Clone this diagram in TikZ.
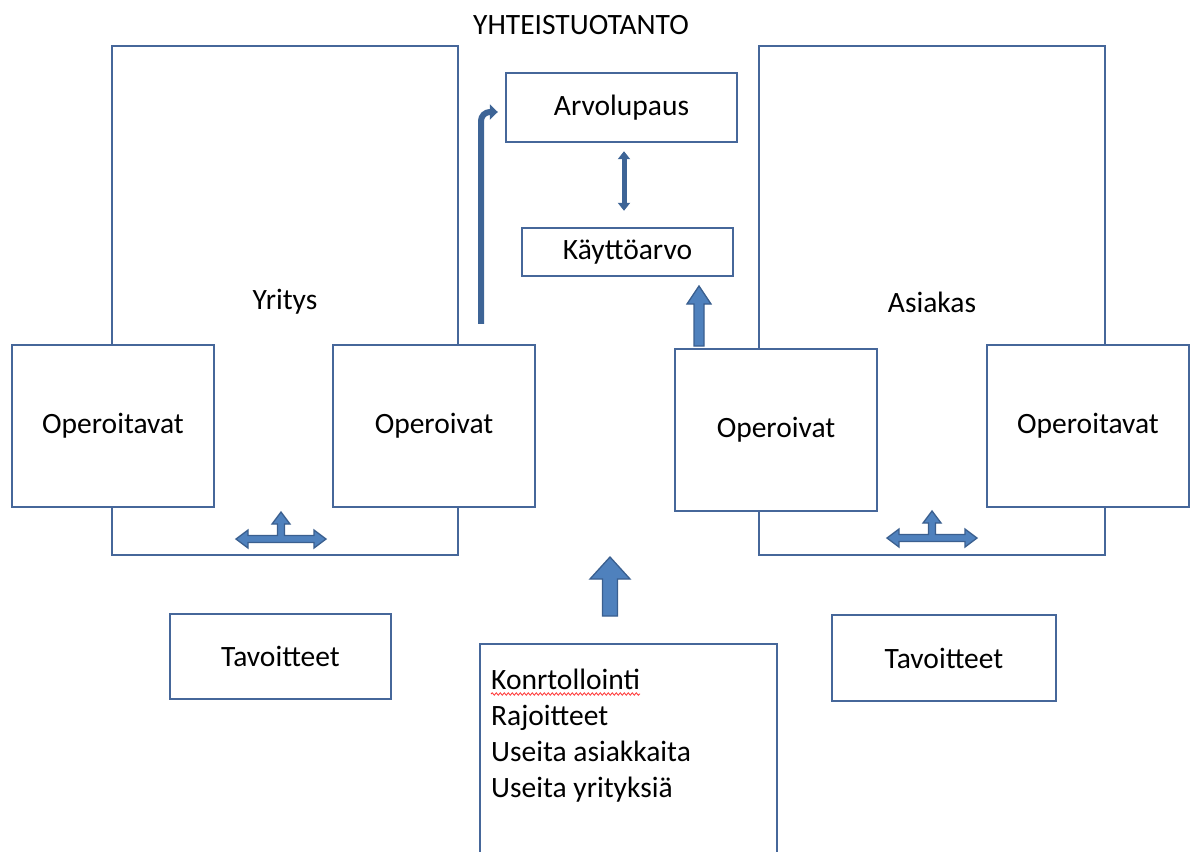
\documentclass[tikz,border=0pt]{standalone}
\usepackage{fontspec}
\setmainfont{Carlito}
\usetikzlibrary{arrows.meta, decorations.pathmorphing}

\definecolor{boxline}{HTML}{46679A}
\definecolor{arrowfill}{HTML}{4F81BD}
\definecolor{arrowline}{HTML}{3A5F8F}

% block arrow pointing up: x, y base, y tip, half shaft, half head, head length
\newcommand{\blockup}[6]{%
  \draw[blockarrow] (#1-#4,#2) -- (#1-#4,#3+#6) -- (#1-#5,#3+#6) -- (#1,#3)
    -- (#1+#5,#3+#6) -- (#1+#4,#3+#6) -- (#1+#4,#2) -- cycle;}
% horizontal two-way arrow with a branch up: x centre, y
\newcommand{\blockT}[2]{%
  \draw[blockarrow] (#1-45,#2) -- (#1-33,#2-9) -- (#1-33,#2-3.5) -- (#1-3.5,#2-3.5)
    -- (#1-3.5,#2-15) -- (#1-9,#2-15) -- (#1,#2-27) -- (#1+9,#2-15) -- (#1+3.5,#2-15)
    -- (#1+3.5,#2-3.5) -- (#1+33,#2-3.5) -- (#1+33,#2-9) -- (#1+45,#2)
    -- (#1+33,#2+9) -- (#1+33,#2+3.5) -- (#1-33,#2+3.5) -- (#1-33,#2+9) -- cycle;}

\begin{document}
\begin{tikzpicture}[x=1pt,y=-1pt,font=\fontsize{29.5}{36}\selectfont]
	\tikzset{
		box/.style={draw=boxline,line width=2.4pt,fill=white,inner sep=0pt},
		blockarrow/.style={fill=arrowfill,draw=arrowline,line width=1.3pt,line join=miter},
		thinarrow/.style={draw=arrowline!85!arrowfill,line width=5pt}
	}
	\useasboundingbox (0,0) rectangle (1195,852);

	% title
	\node (title) at (581,25) {YHTEISTUOTANTO};

	% company and customer
	\node[box,minimum width=346,minimum height=509] (yritys) at (285,300.5) {};
	\node[box,minimum width=346,minimum height=509] (asiakas) at (932,300.5) {};
	\node (yrityslbl) at (285,302) {Yritys};
	\node (asiakaslbl) at (932,302) {Asiakas};

	\node[box,minimum width=202,minimum height=162] (oitL) at (113,426) {Operoitavat};
	\node[box,minimum width=202,minimum height=162] (oivL) at (434,426) {Operoivat};
	\node[box,minimum width=202,minimum height=162] (oivR) at (776,430) {Operoivat};
	\node[box,minimum width=202,minimum height=162] (oitR) at (1088,426) {Operoitavat};

	% value
	\node[box,minimum width=231,minimum height=69] (arvo) at (621.5,107.5) {Arvolupaus};
	\node[box,minimum width=211,minimum height=48] (kaytto) at (627.5,252) {Käyttöarvo};

	% goals
	\node[box,minimum width=221,minimum height=85] (tavL) at (280.5,656.5) {Tavoitteet};
	\node[box,minimum width=224,minimum height=86] (tavR) at (944,658) {Tavoitteet};

	% list box, runs past the lower edge
	\node[box,minimum width=297,minimum height=240,anchor=north west] (lista) at (479,643) {};
	\foreach \txt [count=\i] in {Konrtollointi, Rajoitteet, Useita asiakkaita, Useita yrityksiä}
		\node[anchor=base west,inner sep=0pt] (rivi\i) at (491,653+36*\i) {\txt};
	\draw[red!80,line width=0.8pt,decorate,decoration={snake,amplitude=1.2pt,segment length=4pt}]
		([yshift=-5]rivi1.base west) -- ([yshift=-5]rivi1.base east);

	% arrows
	\coordinate (bentstart) at ([xshift=47,yshift=20]oivL.north);
	\draw[thinarrow,line width=6pt,rounded corners=9,-{Triangle[width=15pt,length=8pt]}]
		(bentstart) |- ([xshift=-7]arvo.west |- 0,112);
	\draw[thinarrow,{Triangle[width=12pt,length=8pt]}-{Triangle[width=12pt,length=8pt]}]
		([xshift=2.5,yshift=-8]arvo.south) -- ([xshift=-3.5,yshift=16]kaytto.north);

	\blockup{699}{346}{286}{5}{12}{18}
	\blockup{610}{616}{557}{7.5}{20}{22}
	\blockT{281}{539}
	\blockT{932}{538}
\end{tikzpicture}
\end{document}
